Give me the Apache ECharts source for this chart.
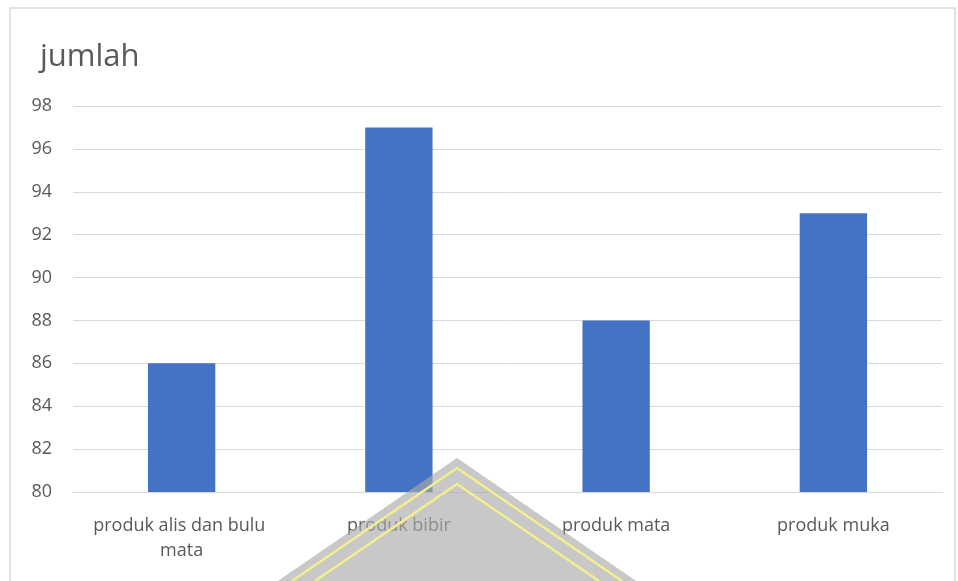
<!DOCTYPE html>
<html>
<head>
<meta charset="utf-8">
<script src="https://cdn.jsdelivr.net/npm/echarts@6/dist/echarts.min.js"></script>
<style>
  html, body { margin: 0; padding: 0; background: #fff; }
  #chart { width: 958px; height: 581px; }
</style>
</head>
<body>
<div id="chart"></div>
<script>
var categories = ["produk alis dan bulu mata", "produk bibir", "produk mata", "produk muka"];
var jumlah = [86, 97, 88, 93];
var yMin = 80, yMax = 98, yStep = 2;

var textColor = "#595959";
var chart = echarts.init(document.getElementById("chart"));

var option = {
    animation: false,
    title: {
        text: "jumlah",
        left: 35,
        top: 37,
        textStyle: { color: textColor, fontSize: 31, fontWeight: "normal", fontFamily: "Open Sans" }
    },
    grid: { left: 73, right: 16, top: 106, bottom: 89 },
    xAxis: {
        type: "category",
        data: categories,
        axisLine: { show: true, lineStyle: { color: "#d9d9d9" } },
        axisTick: { show: false },
        axisLabel: {
            interval: 0,
            color: textColor, fontSize: 18, fontFamily: "Open Sans",
            margin: 21, width: 190, overflow: "break", lineHeight: 25
        }
    },
    yAxis: {
        type: "value",
        min: yMin, max: yMax, interval: yStep,
        axisLine: { show: false },
        axisTick: { show: false },
        splitLine: { lineStyle: { color: "#d9d9d9", width: 1 } },
        axisLabel: { color: textColor, fontSize: 18, fontFamily: "Open Sans", margin: 21 }
    },
    series: [{
        name: "jumlah",
        type: "bar",
        data: jumlah,
        barWidth: "31%",
        itemStyle: { color: "#4472c4" }
    }],
    graphic: [
        { type: "rect", shape: { x: 10, y: 8, width: 945, height: 620 },
          style: { fill: "none", stroke: "#d9d9d9", lineWidth: 1.5 }, z: 10 },
        { type: "polygon", shape: { points: [[457, 458], [272, 585], [642, 585]] },
          style: { fill: "rgba(170,170,170,0.65)" }, z: 20 },
        { type: "polyline", shape: { points: [[292, 581], [457, 468], [622, 581]] },
          style: { stroke: "#f3ee8e", lineWidth: 2.5, fill: "none" }, z: 21 },
        { type: "polyline", shape: { points: [[315, 581], [457, 484], [599, 581]] },
          style: { stroke: "#f3ee8e", lineWidth: 2.5, fill: "none" }, z: 21 }
    ]
};

chart.setOption(option);
</script>
</body>
</html>
